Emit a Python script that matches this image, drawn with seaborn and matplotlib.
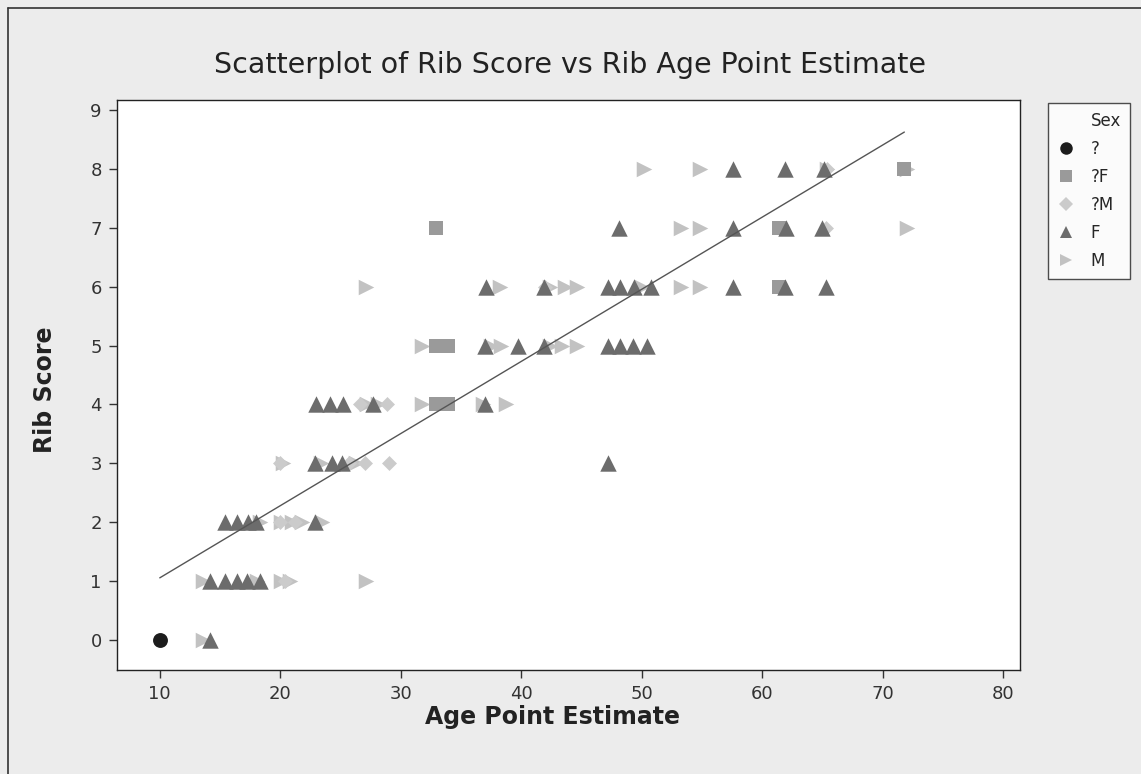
import numpy as np
import pandas as pd
import matplotlib.pyplot as plt
import seaborn as sns
from matplotlib.lines import Line2D

# Values, one pair of lists per Sex group
q_age = [10.0]
q_score = [0]

qf_age = [32.9, 33.9, 32.9, 33.9, 32.9, 61.4, 61.4, 71.8]
qf_score = [4, 4, 5, 5, 7, 6, 7, 8]

qm_age = [20.4, 20.0, 21.2, 20.0, 25.7, 27.0, 29.0, 26.6, 28.9, 42.0, 65.3, 65.4]
qm_score = [1, 2, 2, 3, 3, 3, 3, 4, 4, 6, 7, 8]

f_age = [14.2,
         14.2, 15.4, 16.4, 17.2, 18.3,
         15.4, 16.4, 17.3, 18.0, 22.9,
         22.9, 24.3, 25.1, 47.2,
         23.0, 24.1, 25.2, 27.7, 37.0,
         37.0, 39.7, 41.9, 47.2, 48.2, 49.3, 50.4,
         37.1, 41.9, 47.2, 48.2, 49.4, 50.8, 57.6, 61.9, 65.3,
         48.1, 57.6, 62.0, 65.0,
         57.6, 61.9, 65.1]
f_score = [0,
           1, 1, 1, 1, 1,
           2, 2, 2, 2, 2,
           3, 3, 3, 3,
           4, 4, 4, 4, 4,
           5, 5, 5, 5, 5, 5, 5,
           6, 6, 6, 6, 6, 6, 6, 6, 6,
           7, 7, 7, 7,
           8, 8, 8]

m_age = [13.6,
         13.6, 18.1, 20.1, 20.8, 27.1,
         18.3, 20.1, 21.0, 21.8, 23.5,
         20.2, 23.4, 26.3,
         27.2, 28.1, 31.8, 36.8, 38.7,
         31.8, 37.5, 38.3, 42.4, 43.4, 44.6,
         27.1, 38.2, 42.4, 43.6, 44.6, 50.0, 53.3, 54.8,
         53.3, 54.8, 72.0,
         50.2, 54.8, 65.4, 72.0]
m_score = [0,
           1, 1, 1, 1, 1,
           2, 2, 2, 2, 2,
           3, 3, 3,
           4, 4, 4, 4, 4,
           5, 5, 5, 5, 5, 5,
           6, 6, 6, 6, 6, 6, 6, 6,
           7, 7, 7,
           8, 8, 8, 8]

# fitted line (Minitab regression over full data)
fit_range = [10.0, 71.8]
fit_intercept = -0.17
fit_slope = 0.1225

x_ticks = [10, 20, 30, 40, 50, 60, 70, 80]
y_ticks = [0, 1, 2, 3, 4, 5, 6, 7, 8, 9]

groups = ['?', '?F', '?M', 'F', 'M']
frames = []
for name, a, s in zip(groups, [q_age, qf_age, qm_age, f_age, m_age],
                      [q_score, qf_score, qm_score, f_score, m_score]):
    frames.append(pd.DataFrame({'Age': a, 'Score': s, 'Sex': name}))
data = pd.concat(frames, ignore_index=True)

markers = {'?': 'o', '?F': 's', '?M': 'D', 'F': '^', 'M': '>'}
colors = {'?': '#1c1c1c', '?F': '#9a9a9a', '?M': '#cbcbcb', 'F': '#6c6c6c', 'M': '#c2c2c2'}
sizes = {'?': 115, '?F': 95, '?M': 58, 'F': 140, 'M': 125}

sns.set_style('white')
plt.rcParams['font.family'] = ['DejaVu Sans']

fig = plt.figure(figsize=(11.41, 7.74), dpi=100, facecolor='#ececec')
ax = fig.add_axes([117 / 1141, 1 - 670 / 774, 903 / 1141, 570 / 774])
ax.set_facecolor('white')

for name in ['M', '?M', '?F', 'F', '?']:
    sub = data[data['Sex'] == name]
    sns.scatterplot(data=sub, x='Age', y='Score', marker=markers[name],
                    color=colors[name], s=sizes[name], linewidth=0, ax=ax,
                    legend=False, zorder=3)

xs = np.array(fit_range)
ax.plot(xs, fit_intercept + fit_slope * xs, color='#555555', lw=1.0, zorder=4)

ax.set_xlim(6.45, 81.4)
ax.set_ylim(-0.51, 9.17)
ax.set_xticks(x_ticks)
ax.set_yticks(y_ticks)
ax.tick_params(axis='both', direction='out', length=6, width=1, color='#333333',
               labelsize=13, labelcolor='#333333', pad=5)
ax.tick_params(axis='both', bottom=True, left=True)
for sp in ax.spines.values():
    sp.set_color('#222222')
    sp.set_linewidth(1)

ax.set_xlabel('Age Point Estimate', fontsize=17, fontweight='bold', color='#222222')
ax.set_ylabel('Rib Score', fontsize=17, fontweight='bold', color='#222222')
ax.xaxis.set_label_coords(0.482, -0.062)
ax.yaxis.set_label_coords(-0.066, 0.491)

fig.text(570 / 1141, 1 - 65 / 774, 'Scatterplot of Rib Score vs Rib Age Point Estimate',
         ha='center', va='center', fontsize=20.5, color='#222222')

# legend with "Sex" heading as a blank first entry
handles = [Line2D([], [], linestyle='none', marker=None, label='Sex')]
for name in groups:
    handles.append(Line2D([], [], linestyle='none', marker=markers[name],
                          markersize=9 if name != '?M' else 7,
                          markerfacecolor=colors[name], markeredgewidth=0,
                          label=name))
leg = fig.legend(handles=handles, loc='upper left',
                 bbox_to_anchor=(1048 / 1141, 1 - 103 / 774), borderaxespad=0,
                 fontsize=12, frameon=True, fancybox=False, handlelength=1.0,
                 handletextpad=1.0, labelspacing=0.6, borderpad=0.55)
leg.get_frame().set_edgecolor('#222222')
leg.get_frame().set_linewidth(1)
leg.get_frame().set_facecolor('white')

# outer frame of the graph window
fig.add_artist(Line2D([8 / 1141, 8 / 1141], [0, 1 - 8 / 774], color='#333333', lw=1.2,
                      transform=fig.transFigure))
fig.add_artist(Line2D([8 / 1141, 1], [1 - 8 / 774, 1 - 8 / 774], color='#333333', lw=1.2,
                      transform=fig.transFigure))

fig.savefig('out.png', dpi=100, facecolor=fig.get_facecolor())
